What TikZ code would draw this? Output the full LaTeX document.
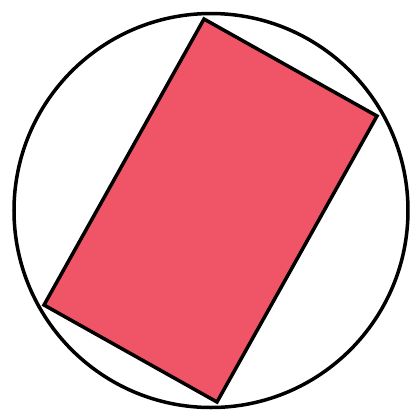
\documentclass[tikz,border=0pt]{standalone}
\usepackage{xcolor}
\definecolor{rectred}{HTML}{EF5566}

\begin{document}
\begin{tikzpicture}[
  x=0.01cm, y=-0.01cm,
  outline/.style={draw=black, line width=0.035cm},
  card/.style={outline, fill=rectred, line join=miter}
]
\useasboundingbox (0,0) rectangle (417,417);

% circle
\coordinate (centre) at (211,210.5);
\draw[outline] (centre) circle[radius=197];

% rotated rectangle
\coordinate (top) at (204,19);
\coordinate (right) at (377,116);
\coordinate (bottom) at (217,402);
\coordinate (left) at (44,305);
\draw[card] (top) -- (right) -- (bottom) -- (left) -- cycle;

\end{tikzpicture}
\end{document}
